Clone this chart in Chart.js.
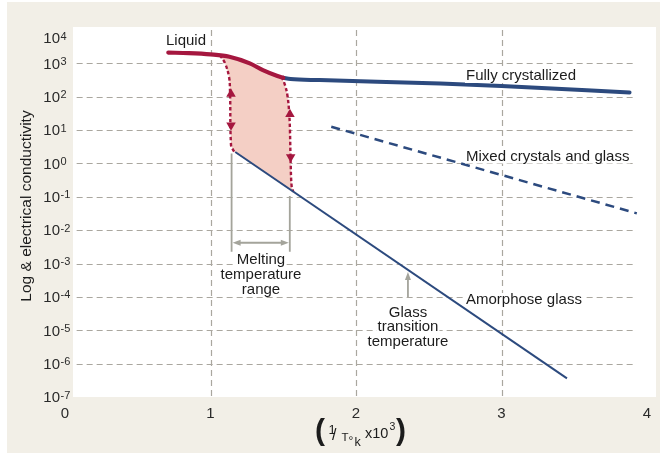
<!DOCTYPE html>
<html>
<head>
<meta charset="utf-8">
<script src="https://cdn.jsdelivr.net/npm/chart.js@4"></script>
<style>
  html, body { margin: 0; padding: 0; background: #fff; }
  canvas { display: block; }
</style>
</head>
<body>
<canvas id="chart" width="660" height="455"></canvas>
<script>
// x: reciprocal temperature (1/T[K] x 10^3), y: electrical conductivity (log scale)
const liquidX   = [0.71, 0.85, 1.00, 1.13, 1.27, 1.36, 1.46, 1.50];
const liquidY   = [2100, 2030, 1860, 1580, 1000, 630, 420, 370];

const crystalX  = [1.50, 1.55, 1.75, 2.58, 3.00, 3.88];
const crystalY  = [370, 340, 315, 250, 210, 135];

const mixedX    = [1.83, 3.93];
const mixedY    = [12.6, 0.032];

const glassX    = [1.17, 3.45];
const glassY    = [2.2, 3.6e-7];

// dotted edges of the melting band
const meltStartX = [1.065, 1.100, 1.127, 1.134, 1.141, 1.156, 1.168];
const meltStartY = [1780, 1000, 398, 158, 3.55, 2.51, 2.14];
const meltEndX   = [1.489, 1.512, 1.530, 1.541, 1.546, 1.551, 1.558, 1.569];
const meltEndY   = [398, 224, 100, 31.6, 10, 1, 0.2, 0.141];

// direction markers on the dotted edges
const arrowX   = [1.141, 1.546, 1.141, 1.551];
const arrowY   = [120, 30, 14, 1.55];
const arrowDir = [0, 0, 180, 180];

const xTickValues = [0, 1, 2, 3, 4];
const yTickExponents = [4, 3, 2, 1, 0, -1, -2, -3, -4, -5, -6, -7];

const FONT = '"Liberation Sans", Arial, Helvetica, sans-serif';
const RED = '#a5173f';
const NAVY = '#2c4a7e';

function pts(xs, ys) { return xs.map((x, i) => ({ x: x, y: ys[i] })); }

// closed outline of the melting band: left edge top, liquid curve, right edge, glass line, left edge back up
const bandOutline = [pts(meltStartX, meltStartY)[0]]
  .concat(pts(liquidX, liquidY).filter(p => p.x > meltStartX[0] && p.x < meltEndX[0]))
  .concat(pts(meltEndX, meltEndY))
  .concat(pts(meltStartX, meltStartY).slice(1).reverse());

function boxedText(ctx, str, x, y, align) {
  ctx.textAlign = align;
  const w = ctx.measureText(str).width;
  const x0 = align === 'center' ? x - w / 2 : x;
  ctx.fillStyle = '#fff';
  ctx.fillRect(x0 - 1, y - 11, w + 2, 14);
  ctx.fillStyle = '#1c1c1c';
  ctx.fillText(str, x, y);
}

function arrowHead(ctx, x, y, dx, dy, len, half) {
  ctx.beginPath();
  ctx.moveTo(x, y);
  ctx.lineTo(x - dx * len - dy * half, y - dy * len + dx * half);
  ctx.lineTo(x - dx * len + dy * half, y - dy * len - dx * half);
  ctx.closePath();
  ctx.fill();
}

const decor = {
  id: 'decor',
  beforeDraw(chart) {
    const ctx = chart.ctx;
    ctx.save();
    ctx.fillStyle = '#ffffff';
    ctx.fillRect(0, 0, 660, 455);
    ctx.fillStyle = '#f2efe7';
    ctx.fillRect(7, 2, 653, 451);
    ctx.fillStyle = '#ffffff';
    ctx.fillRect(73, 27, 583, 370);
    ctx.restore();
  },
  beforeDatasetsDraw(chart) {
    const ctx = chart.ctx, xs = chart.scales.x, ys = chart.scales.y;
    ctx.save();
    ctx.strokeStyle = '#aaa79f';
    ctx.lineWidth = 1.2;
    ctx.setLineDash([6, 4]);
    const gx0 = xs.getPixelForValue(0.08), gx1 = xs.getPixelForValue(3.92);
    yTickExponents.slice(1, -1).forEach(e => {
      const y = Math.round(ys.getPixelForValue(Math.pow(10, e))) + 0.5;
      ctx.beginPath(); ctx.moveTo(gx0, y); ctx.lineTo(gx1, y); ctx.stroke();
    });
    xTickValues.slice(1, -1).forEach(v => {
      const x = Math.round(xs.getPixelForValue(v)) + 0.5;
      ctx.beginPath(); ctx.moveTo(x, 30); ctx.lineTo(x, 396); ctx.stroke();
    });
    ctx.restore();
  },
  afterDatasetsDraw(chart) {
    const ctx = chart.ctx, xs = chart.scales.x, ys = chart.scales.y;
    ctx.save();

    // melting temperature range bracket
    ctx.strokeStyle = '#a4a49b';
    ctx.fillStyle = '#a4a49b';
    ctx.lineWidth = 1.8;
    const lx = xs.getPixelForValue(1.145), rx = xs.getPixelForValue(1.545);
    const bot = ys.getPixelForValue(2.26e-3), ay = ys.getPixelForValue(4.2e-3);
    ctx.beginPath();
    ctx.moveTo(lx, ys.getPixelForValue(2.0)); ctx.lineTo(lx, bot);
    ctx.moveTo(rx, ys.getPixelForValue(0.105)); ctx.lineTo(rx, bot);
    ctx.moveTo(lx + 6, ay); ctx.lineTo(rx - 6, ay);
    ctx.stroke();
    arrowHead(ctx, lx + 1, ay, -1, 0, 8, 3);
    arrowHead(ctx, rx - 1, ay, 1, 0, 8, 3);

    // glass transition pointer
    const gx = xs.getPixelForValue(2.357);
    const gTip = ys.getPixelForValue(5.6e-4), gTail = ys.getPixelForValue(1e-4);
    ctx.beginPath(); ctx.moveTo(gx, gTail); ctx.lineTo(gx, gTip + 6); ctx.stroke();
    arrowHead(ctx, gx, gTip, 0, -1, 8, 3);

    // curve labels
    ctx.font = '15px ' + FONT;
    ctx.textBaseline = 'alphabetic';
    boxedText(ctx, 'Liquid', 166, 45, 'left');
    boxedText(ctx, 'Fully crystallized', 466, 80, 'left');
    boxedText(ctx, 'Mixed crystals and glass', 466, 160.5, 'left');
    boxedText(ctx, 'Amorphose glass', 466, 304, 'left');
    boxedText(ctx, 'Melting', 261, 263.5, 'center');
    boxedText(ctx, 'temperature', 261, 279, 'center');
    boxedText(ctx, 'range', 261, 294, 'center');
    boxedText(ctx, 'Glass', 408, 316.5, 'center');
    boxedText(ctx, 'transition', 408, 331, 'center');
    boxedText(ctx, 'temperature', 408, 345.5, 'center');

    // y tick labels 10^n
    ctx.fillStyle = '#2a2a2a';
    yTickExponents.forEach((e, i) => {
      let py = ys.getPixelForValue(Math.pow(10, e));
      if (i === 0) py += 8;
      ctx.font = '15px ' + FONT;
      ctx.textAlign = 'right';
      ctx.fillText('10', 60, py + 5.3);
      ctx.font = '11px ' + FONT;
      ctx.textAlign = 'left';
      ctx.fillText(String(e), 60.5, py + 1.5);
    });

    // x tick labels
    ctx.font = '15px ' + FONT;
    ctx.textAlign = 'center';
    xTickValues.forEach(v => {
      ctx.fillText(String(v), xs.getPixelForValue(v), 417.5);
    });

    // x axis title: (1/T°k x10^3)
    ctx.textAlign = 'left';
    ctx.fillStyle = '#1c1c1c';
    ctx.font = 'bold 30px ' + FONT;
    ctx.fillText('(', 315, 440);
    ctx.font = '13px ' + FONT;
    ctx.fillText('1', 328.5, 434);
    ctx.font = '16px ' + FONT;
    ctx.fillText('/', 332, 440);
    ctx.font = '11.5px ' + FONT;
    ctx.fillText('T', 341.5, 441);
    ctx.font = '12px ' + FONT;
    ctx.fillText('°', 348.5, 445);
    ctx.font = '12.5px ' + FONT;
    ctx.fillText('k', 354.5, 446);
    ctx.font = '14.5px ' + FONT;
    ctx.fillText('x10', 365, 437.5);
    ctx.font = '10.5px ' + FONT;
    ctx.fillText('3', 389.5, 430);
    ctx.font = 'bold 30px ' + FONT;
    ctx.fillText(')', 396, 440);

    // y axis title
    ctx.save();
    ctx.translate(31, 206);
    ctx.rotate(-Math.PI / 2);
    ctx.font = '15.5px ' + FONT;
    ctx.textAlign = 'center';
    ctx.fillStyle = '#1c1c1c';
    ctx.fillText('Log & electrical conductivity', 0, 0);
    ctx.restore();

    ctx.restore();
  }
};

new Chart(document.getElementById('chart'), {
  type: 'scatter',
  data: {
    datasets: [
      {
        label: 'Melting band',
        data: bandOutline,
        showLine: true,
        borderWidth: 0,
        borderColor: 'rgba(0,0,0,0)',
        backgroundColor: '#f4cfc5',
        fill: 'shape',
        pointRadius: 0,
        tension: 0,
        order: 10
      },
      {
        label: 'Melting start',
        data: pts(meltStartX, meltStartY),
        showLine: true,
        borderColor: RED,
        borderWidth: 2.4,
        borderDash: [3.5, 2.5],
        pointRadius: 0,
        tension: 0.4,
        fill: false,
        order: 6
      },
      {
        label: 'Melting end',
        data: pts(meltEndX, meltEndY),
        showLine: true,
        borderColor: RED,
        borderWidth: 2.4,
        borderDash: [3.5, 2.5],
        pointRadius: 0,
        tension: 0.4,
        fill: false,
        order: 6
      },
      {
        label: 'Amorphose glass',
        data: pts(glassX, glassY),
        showLine: true,
        borderColor: NAVY,
        borderWidth: 2,
        pointRadius: 0,
        fill: false,
        order: 5
      },
      {
        label: 'Mixed crystals and glass',
        data: pts(mixedX, mixedY),
        showLine: true,
        borderColor: NAVY,
        borderWidth: 2.5,
        borderDash: [9, 6],
        pointRadius: 0,
        fill: false,
        order: 4
      },
      {
        label: 'Fully crystallized',
        data: pts(crystalX, crystalY),
        showLine: true,
        borderColor: NAVY,
        borderWidth: 4,
        borderCapStyle: 'round',
        pointRadius: 0,
        cubicInterpolationMode: 'monotone',
        fill: false,
        order: 3
      },
      {
        label: 'Liquid',
        data: pts(liquidX, liquidY),
        showLine: true,
        borderColor: RED,
        borderWidth: 4.2,
        borderCapStyle: 'round',
        pointRadius: 0,
        cubicInterpolationMode: 'monotone',
        fill: false,
        order: 2
      },
      {
        label: 'Direction',
        data: pts(arrowX, arrowY),
        showLine: false,
        pointStyle: 'triangle',
        pointRadius: 5.5,
        pointRotation: arrowDir,
        backgroundColor: RED,
        borderColor: RED,
        borderWidth: 0,
        order: 1
      }
    ]
  },
  options: {
    responsive: false,
    devicePixelRatio: 1,
    animation: false,
    layout: { padding: { left: 65, right: 13, top: 30, bottom: 58 } },
    scales: {
      x: { type: 'linear', min: 0, max: 4, display: false },
      y: { type: 'logarithmic', min: 1e-7, max: 1e4, display: false }
    },
    plugins: {
      legend: { display: false },
      tooltip: { enabled: false }
    }
  },
  plugins: [decor]
});
</script>
</body>
</html>
